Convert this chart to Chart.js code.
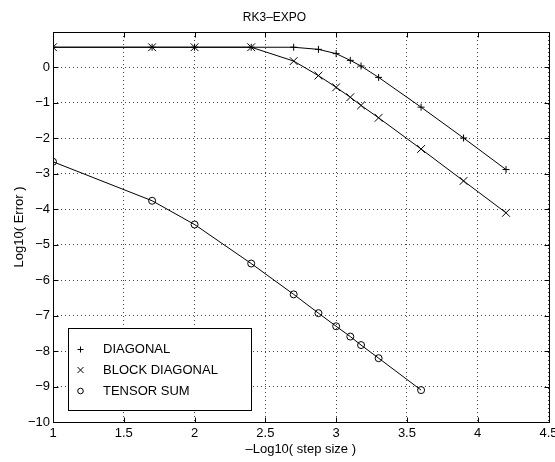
<!DOCTYPE html>
<html>
<head>
<meta charset="utf-8">
<script src="https://cdn.jsdelivr.net/npm/chart.js@4/dist/chart.umd.min.js"></script>
<style>
  html, body { margin: 0; padding: 0; background: #fff; }
  #wrap { width: 555px; height: 462px; position: relative; }
</style>
</head>
<body>
<div id="wrap"><canvas id="c" width="555" height="462"></canvas></div>
<script>
// ---- data ----
const stepLogs = [1, 1.7, 2, 2.4, 2.7, 2.875, 3, 3.1, 3.176, 3.3, 3.6, 3.9, 4.2];
const tensorStepLogs = [1, 1.7, 2, 2.4, 2.7, 2.875, 3, 3.1, 3.176, 3.3, 3.6];
const diagonalErr = [0.57, 0.57, 0.57, 0.57, 0.57, 0.51, 0.39, 0.20, 0.04, -0.28, -1.12, -1.99, -2.88];
const blockDiagonalErr = [0.57, 0.57, 0.57, 0.57, 0.18, -0.23, -0.56, -0.84, -1.07, -1.42, -2.30, -3.20, -4.10];
const tensorSumErr = [-2.66, -3.76, -4.43, -5.53, -6.40, -6.93, -7.30, -7.59, -7.83, -8.20, -9.10];
const seriesNames = ['DIAGONAL', 'BLOCK DIAGONAL', 'TENSOR SUM'];
const xTickValues = [1, 1.5, 2, 2.5, 3, 3.5, 4, 4.5];
const yTickValues = [1, 0, -1, -2, -3, -4, -5, -6, -7, -8, -9, -10];
const chartTitle = 'RK3\u2013EXPO';
const xTitle = '\u2013Log10( step size )';
const yTitle = 'Log10( Error )';

const toPts = (xs, ys) => xs.map((x, i) => ({x: x, y: ys[i]}));
const fmt = v => (v < 0 ? '\u2212' + String(-v) : String(v));

Chart.defaults.font.family = "'Liberation Sans', Arial, Helvetica, sans-serif";
Chart.defaults.font.size = 13;
Chart.defaults.color = '#000';

const pointStyles = ['cross', 'crossRot', 'circle'];

const framePlugin = {
  id: 'frame',
  afterDraw(chart) {
    const {ctx, chartArea: a, scales} = chart;
    ctx.save();
    ctx.strokeStyle = '#000';
    ctx.lineWidth = 1;
    ctx.setLineDash([]);
    const L = Math.round(a.left) + 0.5, R = Math.round(a.right) + 0.5;
    const T = Math.round(a.top) + 0.5, B = Math.round(a.bottom) + 0.5;
    ctx.strokeRect(L, T, R - L, B - T);
    const tl = 5;
    ctx.beginPath();
    scales.x.ticks.forEach(t => {
      const px = Math.round(scales.x.getPixelForValue(t.value)) + 0.5;
      ctx.moveTo(px, B); ctx.lineTo(px, B - tl);
      ctx.moveTo(px, T); ctx.lineTo(px, T + tl);
    });
    scales.y.ticks.forEach(t => {
      const py = Math.round(scales.y.getPixelForValue(t.value)) + 0.5;
      ctx.moveTo(L, py); ctx.lineTo(L + tl, py);
      ctx.moveTo(R, py); ctx.lineTo(R - tl, py);
    });
    ctx.stroke();

    // legend box
    const bx = 68.5, by = 328.5, bw = 183, bh = 82;
    ctx.fillStyle = '#fff';
    ctx.fillRect(bx, by, bw, bh);
    ctx.strokeRect(bx, by, bw, bh);
    ctx.fillStyle = '#000';
    ctx.font = "13px 'Liberation Sans', Arial, sans-serif";
    ctx.textBaseline = 'middle';
    ctx.textAlign = 'left';
    const rows = [349.5, 370, 391];
    const mx = 80.5;
    chart.data.datasets.forEach((ds, i) => {
      const y = rows[i];
      ctx.beginPath();
      if (i === 0) {
        ctx.moveTo(mx - 3, y); ctx.lineTo(mx + 3, y);
        ctx.moveTo(mx, y - 3); ctx.lineTo(mx, y + 3);
      } else if (i === 1) {
        ctx.moveTo(mx - 3, y - 3); ctx.lineTo(mx + 3, y + 3);
        ctx.moveTo(mx - 3, y + 3); ctx.lineTo(mx + 3, y - 3);
      } else {
        ctx.arc(mx, y, 2.8, 0, Math.PI * 2);
      }
      ctx.stroke();
      ctx.fillText(ds.label, 103, y);
    });
    ctx.restore();
  }
};

const mkDs = (label, data, style, radius) => ({
  label: label,
  data: data,
  showLine: true,
  borderColor: '#000',
  borderWidth: 1,
  backgroundColor: 'rgba(0,0,0,0)',
  pointStyle: style,
  pointRadius: radius,
  pointHoverRadius: radius,
  pointBorderColor: '#000',
  pointBackgroundColor: 'rgba(0,0,0,0)',
  pointBorderWidth: 1,
  tension: 0
});

new Chart(document.getElementById('c'), {
  type: 'scatter',
  data: {
    datasets: [
      mkDs(seriesNames[0], toPts(stepLogs, diagonalErr), pointStyles[0], 3.5),
      mkDs(seriesNames[1], toPts(stepLogs, blockDiagonalErr), pointStyles[1], 5.5),
      mkDs(seriesNames[2], toPts(tensorStepLogs, tensorSumErr), pointStyles[2], 3.5)
    ]
  },
  options: {
    responsive: false,
    animation: false,
    devicePixelRatio: 1,
    layout: { padding: { left: 0, right: 6, top: 0, bottom: 0 } },
    plugins: {
      legend: { display: false },
      tooltip: { enabled: false },
      title: {
        display: true,
        text: chartTitle,
        color: '#000',
        font: { size: 12, weight: 'normal' },
        padding: { top: 10, bottom: 7.6 }
      }
    },
    scales: {
      x: {
        type: 'linear',
        min: 1, max: 4.5,
        afterBuildTicks(s) { s.ticks = xTickValues.map(v => ({value: v})); },
        afterFit(s) { s.height = 40; s.paddingLeft = 0; s.paddingRight = 0; },
        ticks: { padding: 4, maxRotation: 0, autoSkip: false, callback: v => fmt(v) },
        grid: { color: '#444', lineWidth: 1, drawTicks: false },
        border: { display: false, dash: [1, 3] },
        title: { display: true, text: xTitle, padding: { top: 0, bottom: 5.2 }, font: { size: 13 } }
      },
      y: {
        type: 'linear',
        min: -10, max: 1,
        afterBuildTicks(s) { s.ticks = yTickValues.map(v => ({value: v})); },
        afterFit(s) { s.width = 53; s.paddingTop = 0; s.paddingBottom = 0; },
        ticks: { padding: 3, autoSkip: false, callback: v => (v === 1 ? '' : fmt(v)) },
        grid: { color: '#444', lineWidth: 1, drawTicks: false },
        border: { display: false, dash: [1, 3] },
        title: { display: true, text: yTitle, padding: { top: 11.2, bottom: 0 }, font: { size: 13 } }
      }
    }
  },
  plugins: [framePlugin]
});
</script>
</body>
</html>
